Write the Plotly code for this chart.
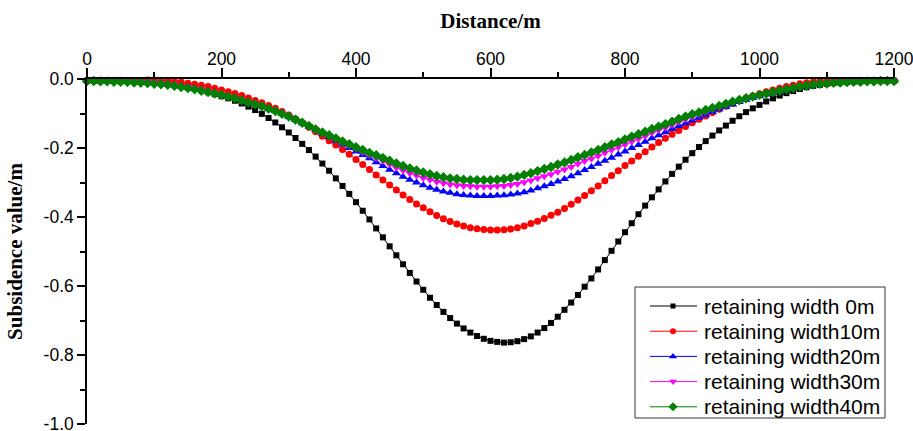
import plotly.graph_objects as go

# Distance along the survey line (m), one point every 10 m
distance = list(range(0, 1210, 10))

# Subsidence (m) for each retaining width
w0 = [
    -0.005, -0.005, -0.005, -0.005, -0.005, -0.006, -0.006, -0.007, -0.008, -0.009,
    -0.010, -0.012, -0.014, -0.017, -0.020, -0.024, -0.028, -0.033, -0.038, -0.044,
    -0.050, -0.056, -0.063, -0.071, -0.080, -0.090, -0.101, -0.113, -0.126, -0.140,
    -0.155, -0.171, -0.188, -0.206, -0.225, -0.245, -0.266, -0.288, -0.310, -0.333,
    -0.357, -0.382, -0.407, -0.433, -0.459, -0.485, -0.511, -0.537, -0.562, -0.587,
    -0.611, -0.634, -0.655, -0.675, -0.693, -0.709, -0.723, -0.735, -0.745, -0.753,
    -0.759, -0.762, -0.764, -0.763, -0.760, -0.754, -0.746, -0.735, -0.722, -0.707,
    -0.689, -0.669, -0.648, -0.626, -0.602, -0.578, -0.552, -0.525, -0.498, -0.471,
    -0.444, -0.418, -0.392, -0.367, -0.343, -0.320, -0.297, -0.275, -0.254, -0.234,
    -0.215, -0.197, -0.180, -0.164, -0.149, -0.135, -0.121, -0.108, -0.096, -0.085,
    -0.075, -0.065, -0.056, -0.048, -0.041, -0.035, -0.029, -0.024, -0.020, -0.017,
    -0.014, -0.012, -0.010, -0.009, -0.008, -0.007, -0.006, -0.006, -0.005, -0.005,
    -0.005,
]

w10 = [
    -0.006, -0.006, -0.006, -0.005, -0.005, -0.005, -0.004, -0.004, -0.004, -0.003,
    -0.003, -0.004, -0.005, -0.007, -0.009, -0.012, -0.015, -0.018, -0.022, -0.027,
    -0.032, -0.037, -0.042, -0.048, -0.055, -0.062, -0.069, -0.077, -0.085, -0.094,
    -0.104, -0.115, -0.127, -0.140, -0.153, -0.166, -0.179, -0.191, -0.204, -0.218,
    -0.233, -0.248, -0.262, -0.278, -0.293, -0.307, -0.322, -0.336, -0.349, -0.362,
    -0.373, -0.385, -0.396, -0.405, -0.413, -0.420, -0.426, -0.431, -0.434, -0.436,
    -0.438, -0.438, -0.437, -0.435, -0.431, -0.426, -0.419, -0.412, -0.404, -0.395,
    -0.386, -0.375, -0.363, -0.351, -0.338, -0.324, -0.310, -0.295, -0.280, -0.266,
    -0.251, -0.238, -0.224, -0.211, -0.197, -0.184, -0.172, -0.160, -0.149, -0.138,
    -0.127, -0.117, -0.107, -0.097, -0.088, -0.079, -0.071, -0.063, -0.055, -0.049,
    -0.043, -0.037, -0.032, -0.027, -0.022, -0.018, -0.014, -0.011, -0.008, -0.006,
    -0.004, -0.004, -0.005, -0.005, -0.005, -0.005, -0.006, -0.006, -0.006, -0.006,
    -0.006,
]

w20 = [
    -0.005, -0.005, -0.006, -0.006, -0.007, -0.007, -0.008, -0.009, -0.010, -0.011,
    -0.012, -0.014, -0.016, -0.018, -0.021, -0.024, -0.028, -0.032, -0.036, -0.041,
    -0.045, -0.050, -0.055, -0.061, -0.067, -0.073, -0.079, -0.086, -0.093, -0.101,
    -0.110, -0.119, -0.128, -0.138, -0.148, -0.159, -0.169, -0.179, -0.190, -0.200,
    -0.210, -0.220, -0.230, -0.241, -0.252, -0.263, -0.273, -0.283, -0.292, -0.300,
    -0.308, -0.315, -0.321, -0.326, -0.330, -0.334, -0.336, -0.338, -0.339, -0.339,
    -0.339, -0.338, -0.337, -0.335, -0.332, -0.328, -0.323, -0.317, -0.311, -0.304,
    -0.297, -0.290, -0.282, -0.273, -0.264, -0.255, -0.246, -0.237, -0.228, -0.219,
    -0.210, -0.200, -0.191, -0.182, -0.172, -0.163, -0.154, -0.145, -0.136, -0.128,
    -0.120, -0.112, -0.104, -0.096, -0.088, -0.081, -0.074, -0.067, -0.061, -0.055,
    -0.050, -0.045, -0.040, -0.036, -0.031, -0.027, -0.023, -0.020, -0.017, -0.014,
    -0.012, -0.010, -0.009, -0.008, -0.007, -0.006, -0.006, -0.005, -0.005, -0.005,
    -0.005,
]

w30 = [
    -0.005, -0.005, -0.006, -0.006, -0.006, -0.006, -0.007, -0.008, -0.009, -0.010,
    -0.011, -0.013, -0.015, -0.017, -0.020, -0.023, -0.027, -0.031, -0.035, -0.040,
    -0.045, -0.050, -0.055, -0.061, -0.067, -0.073, -0.079, -0.086, -0.093, -0.101,
    -0.109, -0.118, -0.127, -0.137, -0.147, -0.157, -0.166, -0.175, -0.185, -0.194,
    -0.203, -0.212, -0.221, -0.229, -0.238, -0.248, -0.257, -0.265, -0.273, -0.280,
    -0.287, -0.292, -0.298, -0.302, -0.306, -0.308, -0.310, -0.311, -0.312, -0.312,
    -0.312, -0.311, -0.310, -0.307, -0.304, -0.299, -0.294, -0.288, -0.282, -0.276,
    -0.269, -0.262, -0.255, -0.246, -0.238, -0.231, -0.223, -0.214, -0.206, -0.198,
    -0.190, -0.181, -0.173, -0.165, -0.156, -0.148, -0.141, -0.133, -0.124, -0.117,
    -0.110, -0.103, -0.096, -0.089, -0.082, -0.076, -0.069, -0.064, -0.058, -0.053,
    -0.048, -0.043, -0.039, -0.035, -0.030, -0.026, -0.022, -0.019, -0.016, -0.014,
    -0.012, -0.010, -0.009, -0.008, -0.007, -0.007, -0.006, -0.006, -0.005, -0.005,
    -0.005,
]

w40 = [
    -0.006, -0.006, -0.007, -0.007, -0.008, -0.008, -0.009, -0.010, -0.011, -0.012,
    -0.014, -0.015, -0.017, -0.020, -0.023, -0.026, -0.030, -0.034, -0.038, -0.042,
    -0.046, -0.051, -0.056, -0.062, -0.068, -0.073, -0.079, -0.086, -0.093, -0.101,
    -0.109, -0.118, -0.127, -0.136, -0.146, -0.155, -0.163, -0.172, -0.181, -0.189,
    -0.198, -0.206, -0.214, -0.221, -0.229, -0.237, -0.245, -0.252, -0.259, -0.265,
    -0.271, -0.276, -0.281, -0.285, -0.288, -0.290, -0.292, -0.293, -0.293, -0.293,
    -0.293, -0.292, -0.290, -0.287, -0.283, -0.278, -0.273, -0.267, -0.261, -0.255,
    -0.248, -0.242, -0.235, -0.227, -0.220, -0.213, -0.206, -0.198, -0.190, -0.183,
    -0.175, -0.167, -0.160, -0.153, -0.145, -0.138, -0.131, -0.124, -0.116, -0.109,
    -0.102, -0.097, -0.090, -0.084, -0.078, -0.072, -0.066, -0.061, -0.056, -0.051,
    -0.046, -0.042, -0.038, -0.034, -0.030, -0.026, -0.022, -0.019, -0.016, -0.014,
    -0.013, -0.011, -0.010, -0.009, -0.008, -0.008, -0.007, -0.007, -0.006, -0.006,
    -0.006,
]

series_names = [
    "retaining width 0m",
    "retaining width10m",
    "retaining width20m",
    "retaining width30m",
    "retaining width40m",
]
series_values = [w0, w10, w20, w30, w40]

x_ticks = [0, 200, 400, 600, 800, 1000, 1200]
y_ticks = [-1.0, -0.8, -0.6, -0.4, -0.2, 0.0]
y_tick_labels = ["-1.0", "-0.8", "-0.6", "-0.4", "-0.2", "0.0"]

colors = ["#000000", "#ff0000", "#0000ff", "#ff00ff", "#008000"]
symbols = ["square", "circle", "triangle-up", "triangle-down", "diamond"]
sizes = [6, 7, 8, 8, 8]
key_sizes = [5, 6, 7, 7, 7]

sans = "Liberation Sans, Arial, sans-serif"
serif = "Liberation Serif, Times New Roman, serif"

# Canvas geometry (px)
W, H = 913, 431
ML, MR, MT, MB = 87, 19, 79, 7
PW, PH = W - ML - MR, H - MT - MB


def px_x(px):
    return (px - ML) / PW


def px_y(py):
    return (H - MB - py) / PH


fig = go.Figure()
for name, vals, c, s, sz in zip(series_names, series_values, colors, symbols, sizes):
    fig.add_trace(go.Scatter(
        x=distance, y=vals, name=name, mode="lines+markers",
        line=dict(color=c, width=1),
        marker=dict(symbol=s, size=sz, color=c, line=dict(width=0)),
        cliponaxis=False, showlegend=False,
    ))

# Boxed key in the lower right corner
box_left, box_right, box_top, box_bottom = 635, 885, 287, 418
row0, row_step = 306, 25.2
seg_left, seg_right, glyph_x, text_x = 650, 697, 673, 702

shapes = [dict(
    type="rect", xref="paper", yref="paper",
    x0=px_x(box_left), x1=px_x(box_right), y0=px_y(box_bottom), y1=px_y(box_top),
    line=dict(color="#333333", width=1), fillcolor="white", layer="below",
)]
annotations = []
key_y = []
for i, (name, c) in enumerate(zip(series_names, colors)):
    ry = row0 + i * row_step
    key_y.append(px_y(ry))
    shapes.append(dict(
        type="line", xref="paper", yref="paper",
        x0=px_x(seg_left), x1=px_x(seg_right), y0=px_y(ry), y1=px_y(ry),
        line=dict(color=c, width=1), layer="below",
    ))
    annotations.append(dict(
        xref="paper", yref="paper", x=px_x(text_x), y=px_y(ry),
        xanchor="left", yanchor="middle", showarrow=False, text=name,
        font=dict(family=sans, size=21, color="black"),
    ))

for i, (c, s, sz) in enumerate(zip(colors, symbols, key_sizes)):
    fig.add_trace(go.Scatter(
        x=[px_x(glyph_x)], y=[key_y[i]], mode="markers",
        marker=dict(symbol=s, size=sz, color=c, line=dict(width=0)),
        xaxis="x2", yaxis="y2", cliponaxis=False, showlegend=False, hoverinfo="skip",
    ))

fig.update_layout(
    width=W, height=H,
    margin=dict(l=ML, r=MR, t=MT, b=MB),
    paper_bgcolor="white", plot_bgcolor="white",
    showlegend=False,
    shapes=shapes,
    annotations=annotations,
    xaxis=dict(
        range=[0, 1200], side="top", automargin=False,
        showline=True, linecolor="black", linewidth=1.5,
        ticks="outside", ticklen=9, tickwidth=1.5, tickcolor="black",
        tickvals=x_ticks, ticklabelstandoff=-4, ticklabeloverflow="allow",
        minor=dict(dtick=100, ticklen=5, tickwidth=1.5, tickcolor="black", ticks="outside"),
        showgrid=False, zeroline=False,
        tickfont=dict(family=sans, size=17.5, color="black"),
        title=dict(text="Distance/m", font=dict(family=serif, size=21, color="black", weight="bold")),
    ),
    yaxis=dict(
        range=[-1.0, 0.0], automargin=False,
        showline=True, linecolor="black", linewidth=1.5,
        ticks="outside", ticklen=8, tickwidth=1.5, tickcolor="black",
        tickvals=y_ticks, ticktext=y_tick_labels, ticklabeloverflow="allow",
        minor=dict(dtick=0.1, ticklen=5, tickwidth=1.5, tickcolor="black", ticks="outside"),
        showgrid=False, zeroline=False,
        tickfont=dict(family=sans, size=17.5, color="black"),
        title=dict(text="Subsidence value/m", font=dict(family=serif, size=21, color="black", weight="bold")),
    ),
    xaxis2=dict(range=[0, 1], overlaying="x", visible=False, fixedrange=True),
    yaxis2=dict(range=[0, 1], overlaying="y", visible=False, fixedrange=True),
)

fig.write_html("out.html")
